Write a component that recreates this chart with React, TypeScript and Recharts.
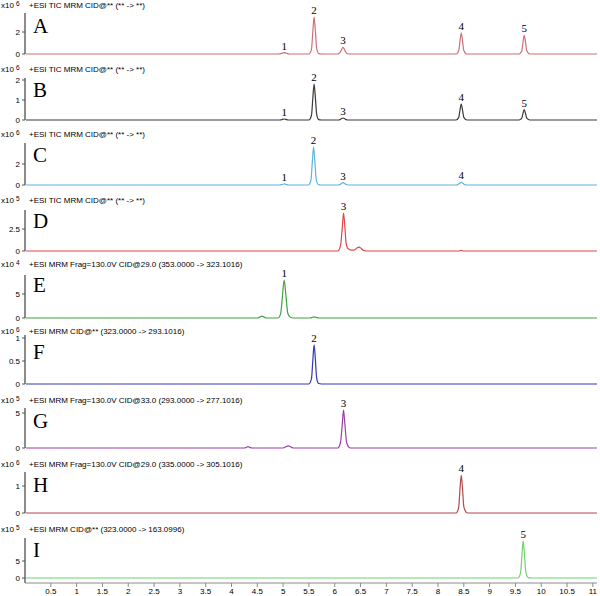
import React from "react";
import { LineChart, Line, XAxis, YAxis, ReferenceDot } from "recharts";

type Pair = [number, number];
type Tag = [number, number, string];

// retention time axis (min)
const xTicks = [0.5, 1, 1.5, 2, 2.5, 3, 3.5, 4, 4.5, 5, 5.5, 6, 6.5, 7, 7.5, 8, 8.5, 9, 9.5, 10, 10.5, 11];

// traces: [time, intensity in panel units]
const traceA: Pair[] = [
  [0.02, 0], [4.92, 0], [4.97, 0.06], [5.02, 0.12], [5.07, 0.06], [5.12, 0],
  [5.5, 0], [5.55, 0.45], [5.575, 2.0], [5.6, 3.36], [5.625, 2.1], [5.65, 0.5], [5.69, 0.04], [5.74, 0],
  [6.06, 0], [6.1, 0.12], [6.13, 0.38], [6.16, 0.6], [6.19, 0.4], [6.22, 0.13], [6.27, 0],
  [8.35, 0], [8.4, 0.28], [8.425, 1.15], [8.45, 1.9], [8.475, 1.2], [8.5, 0.32], [8.56, 0],
  [9.57, 0], [9.62, 0.25], [9.645, 1.02], [9.67, 1.7], [9.695, 1.08], [9.72, 0.3], [9.78, 0],
  [11.08, 0],
];
const traceB: Pair[] = [
  [0.02, 0], [4.94, 0], [4.99, 0.03], [5.02, 0.05], [5.05, 0.03], [5.1, 0],
  [5.5, 0], [5.55, 0.25], [5.575, 1.08], [5.6, 1.8], [5.625, 1.12], [5.65, 0.28], [5.69, 0.02], [5.74, 0],
  [6.08, 0], [6.12, 0.05], [6.16, 0.1], [6.2, 0.05], [6.25, 0],
  [8.35, 0], [8.4, 0.12], [8.425, 0.48], [8.45, 0.8], [8.475, 0.5], [8.5, 0.13], [8.56, 0],
  [9.57, 0], [9.62, 0.08], [9.645, 0.31], [9.67, 0.52], [9.695, 0.33], [9.72, 0.09], [9.78, 0],
  [11.08, 0],
];
const traceC: Pair[] = [
  [0.02, 0], [4.93, 0], [4.98, 0.05], [5.02, 0.1], [5.06, 0.05], [5.11, 0],
  [5.49, 0], [5.54, 0.5], [5.565, 2.15], [5.59, 3.6], [5.615, 2.25], [5.64, 0.55], [5.68, 0.05], [5.73, 0],
  [6.07, 0], [6.11, 0.08], [6.16, 0.22], [6.21, 0.08], [6.26, 0],
  [8.35, 0], [8.4, 0.09], [8.45, 0.25], [8.5, 0.09], [8.55, 0],
  [11.08, 0],
];
const traceD: Pair[] = [
  [0.02, 0], [6.06, 0], [6.11, 0.55], [6.145, 2.6], [6.17, 4.3], [6.195, 2.8], [6.22, 0.9], [6.26, 0.25], [6.32, 0.1],
  [6.38, 0.12], [6.43, 0.35], [6.47, 0.45], [6.51, 0.3], [6.56, 0.06], [6.62, 0],
  [8.4, 0], [8.45, 0.06], [8.5, 0], [11.08, 0],
];
const traceE: Pair[] = [
  [0.02, 0], [4.5, 0], [4.55, 0.2], [4.59, 0.4], [4.63, 0.2], [4.68, 0],
  [4.9, 0], [4.95, 0.8], [4.985, 4.3], [5.02, 7.9], [5.055, 4.6], [5.09, 1.0], [5.14, 0.15], [5.2, 0],
  [5.52, 0], [5.57, 0.15], [5.6, 0.22], [5.64, 0.12], [5.7, 0], [11.08, 0],
];
const traceF: Pair[] = [
  [0.02, 0], [5.5, 0], [5.55, 0.12], [5.575, 0.51], [5.6, 0.85], [5.625, 0.53], [5.65, 0.13], [5.69, 0.01], [5.74, 0],
  [11.08, 0],
];
const traceG: Pair[] = [
  [0.02, 0], [4.25, 0], [4.29, 0.1], [4.32, 0.2], [4.35, 0.1], [4.4, 0],
  [5.0, 0], [5.05, 0.18], [5.1, 0.3], [5.15, 0.15], [5.2, 0],
  [6.06, 0], [6.11, 0.75], [6.145, 3.3], [6.17, 5.4], [6.195, 3.5], [6.23, 0.8], [6.28, 0.08], [6.33, 0],
  [11.08, 0],
];
const traceH: Pair[] = [
  [0.02, 0], [8.35, 0], [8.4, 0.2], [8.425, 0.85], [8.45, 1.4], [8.475, 0.9], [8.5, 0.24], [8.56, 0.01], [8.6, 0],
  [11.08, 0],
];
const traceI: Pair[] = [
  [0.02, 0], [9.55, 0], [9.6, 1.6], [9.625, 6.5], [9.65, 10.9], [9.675, 6.9], [9.7, 1.9], [9.75, 0.1], [9.8, 0],
  [11.08, 0],
];

// peak numbers: [time, height, label]
const tagsA: Tag[] = [[5.02, 0.12, "1"], [5.6, 3.36, "2"], [6.16, 0.6, "3"], [8.45, 1.9, "4"], [9.67, 1.7, "5"]];
const tagsB: Tag[] = [[5.02, 0.05, "1"], [5.6, 1.8, "2"], [6.16, 0.1, "3"], [8.45, 0.8, "4"], [9.67, 0.52, "5"]];
const tagsC: Tag[] = [[5.02, 0.1, "1"], [5.59, 3.6, "2"], [6.16, 0.22, "3"], [8.45, 0.25, "4"]];
const tagsD: Tag[] = [[6.17, 4.3, "3"]];
const tagsE: Tag[] = [[5.02, 7.9, "1"]];
const tagsF: Tag[] = [[5.6, 0.85, "2"]];
const tagsG: Tag[] = [[6.17, 5.4, "3"]];
const tagsH: Tag[] = [[8.45, 1.4, "4"]];
const tagsI: Tag[] = [[9.65, 10.9, "5"]];

const yTicksA = [0, 2];
const yTicksB = [0, 1, 2];
const yTicksC = [0, 2];
const yTicksD = [0, 2.5];
const yTicksE = [0, 5];
const yTicksF = [0, 0.5, 1];
const yTicksG = [0, 5];
const yTicksH = [0, 1];
const yTicksI = [0, 5];

const TIC = "+ESI TIC MRM CID@** (** -> **)";

const panels = [
  { letter: "A", pts: traceA, tags: tagsA, yTicks: yTicksA, max: 3.73, exp: "6", title: TIC, color: "#cf6f78", top: 13, base: 54, head: 6 },
  { letter: "B", pts: traceB, tags: tagsB, yTicks: yTicksB, max: 2.1, exp: "6", title: TIC, color: "#3a3a3a", top: 78, base: 120, head: 70 },
  { letter: "C", pts: traceC, tags: tagsC, yTicks: yTicksC, max: 4.0, exp: "6", title: TIC, color: "#5fb4dc", top: 143, base: 185, head: 135 },
  { letter: "D", pts: traceD, tags: tagsD, yTicks: yTicksD, max: 4.66, exp: "5", title: TIC, color: "#e0474c", top: 210, base: 251, head: 201 },
  { letter: "E", pts: traceE, tags: tagsE, yTicks: yTicksE, max: 8.96, exp: "4", title: "+ESI MRM Frag=130.0V CID@29.0 (353.0000 -> 323.1016)", color: "#3fa43f", top: 275, base: 318, head: 265 },
  { letter: "F", pts: traceF, tags: tagsF, yTicks: yTicksF, max: 1.065, exp: "6", title: "+ESI MRM CID@** (323.0000 -> 293.1016)", color: "#3636b8", top: 335, base: 384, head: 332 },
  { letter: "G", pts: traceG, tags: tagsG, yTicks: yTicksG, max: 5.71, exp: "5", title: "+ESI MRM Frag=130.0V CID@33.0 (293.0000 -> 277.1016)", color: "#9a3fa6", top: 408, base: 448, head: 401 },
  { letter: "H", pts: traceH, tags: tagsH, yTicks: yTicksH, max: 1.52, exp: "6", title: "+ESI MRM Frag=130.0V CID@29.0 (335.0000 -> 305.1016)", color: "#b4474a", top: 472, base: 513, head: 465 },
  { letter: "I", pts: traceI, tags: tagsI, yTicks: yTicksI, max: 11.76, exp: "5", title: "+ESI MRM CID@** (323.0000 -> 163.0996)", color: "#6fd36f", top: 538, base: 578, head: 530 },
];

const X_MAX = 11.08;
const AXIS_Y = 583;
const SANS = "Liberation Sans, Arial, sans-serif";
const SERIF = "Liberation Serif, Times New Roman, serif";
const AXIS_GREY = "#8c8c8c";

const Panel = ({ p, last }: { p: (typeof panels)[number]; last: boolean }) => {
  const mt = 12;
  const mb = last ? 0 : 7;
  const axisH = last ? 14 : 0;
  const bottom = last ? AXIS_Y : p.base;
  const pxPerUnit = (p.base - p.top) / p.max;
  const lo = last ? -(AXIS_Y - p.base) / pxPerUnit : 0;
  const height = bottom - p.top + mt + mb + axisH;
  const data = p.pts.map(([t, v]) => ({ t, v }));

  return (
    <>
      <div style={{ position: "absolute", left: 1, top: p.head - 5, fontSize: 8, lineHeight: "10px", fontFamily: SANS, whiteSpace: "nowrap" }}>
        x10<span style={{ fontSize: 6.5, position: "relative", top: -2, marginLeft: 2 }}>{p.exp}</span>
      </div>
      <div style={{ position: "absolute", left: 29, top: p.head - 5, fontSize: 8, lineHeight: "10px", fontFamily: SANS, whiteSpace: "nowrap" }}>
        {p.title}
      </div>
      <div style={{ position: "absolute", left: 33, top: p.head + 27 - 17, fontSize: 21, lineHeight: "20px", fontFamily: SERIF }}>
        {p.letter}
      </div>
      <div style={{ position: "absolute", left: 0, top: p.top - mt }}>
        <LineChart width={600} height={height} data={data} margin={{ top: mt, right: 3, bottom: mb, left: 0 }}>
          <XAxis
            dataKey="t"
            type="number"
            domain={[0, X_MAX]}
            ticks={xTicks}
            interval={0}
            hide={!last}
            height={14}
            stroke={AXIS_GREY}
            tickSize={4}
            tickMargin={1}
            tick={{ fontSize: 8, fill: "#000", fontFamily: SANS }}
          />
          <YAxis
            type="number"
            domain={[lo, p.max]}
            ticks={p.yTicks}
            interval={0}
            width={25}
            tickSize={3}
            tickMargin={2}
            axisLine={{ stroke: AXIS_GREY, strokeWidth: 2 }}
            tickLine={{ stroke: "#555" }}
            tick={{ fontSize: 8, fill: "#000", fontFamily: SANS }}
          />
          <Line
            dataKey="v"
            type="monotone"
            stroke={p.color}
            strokeWidth={1.2}
            dot={false}
            isAnimationActive={false}
          />
          {p.tags.map(([t, v, text]) => (
            <ReferenceDot
              key={text}
              x={t}
              y={v}
              r={0}
              fill="none"
              stroke="none"
              label={{ value: text, position: "top", offset: 3, fontSize: 11, fontFamily: SERIF, fill: "#000" }}
            />
          ))}
        </LineChart>
      </div>
    </>
  );
};

export default function App() {
  return (
    <div style={{ position: "absolute", left: 0, top: 0, width: 600, height: 596, background: "#fff" }}>
      {panels.map((p, i) => (
        <Panel key={p.letter} p={p} last={i === panels.length - 1} />
      ))}
    </div>
  );
}
